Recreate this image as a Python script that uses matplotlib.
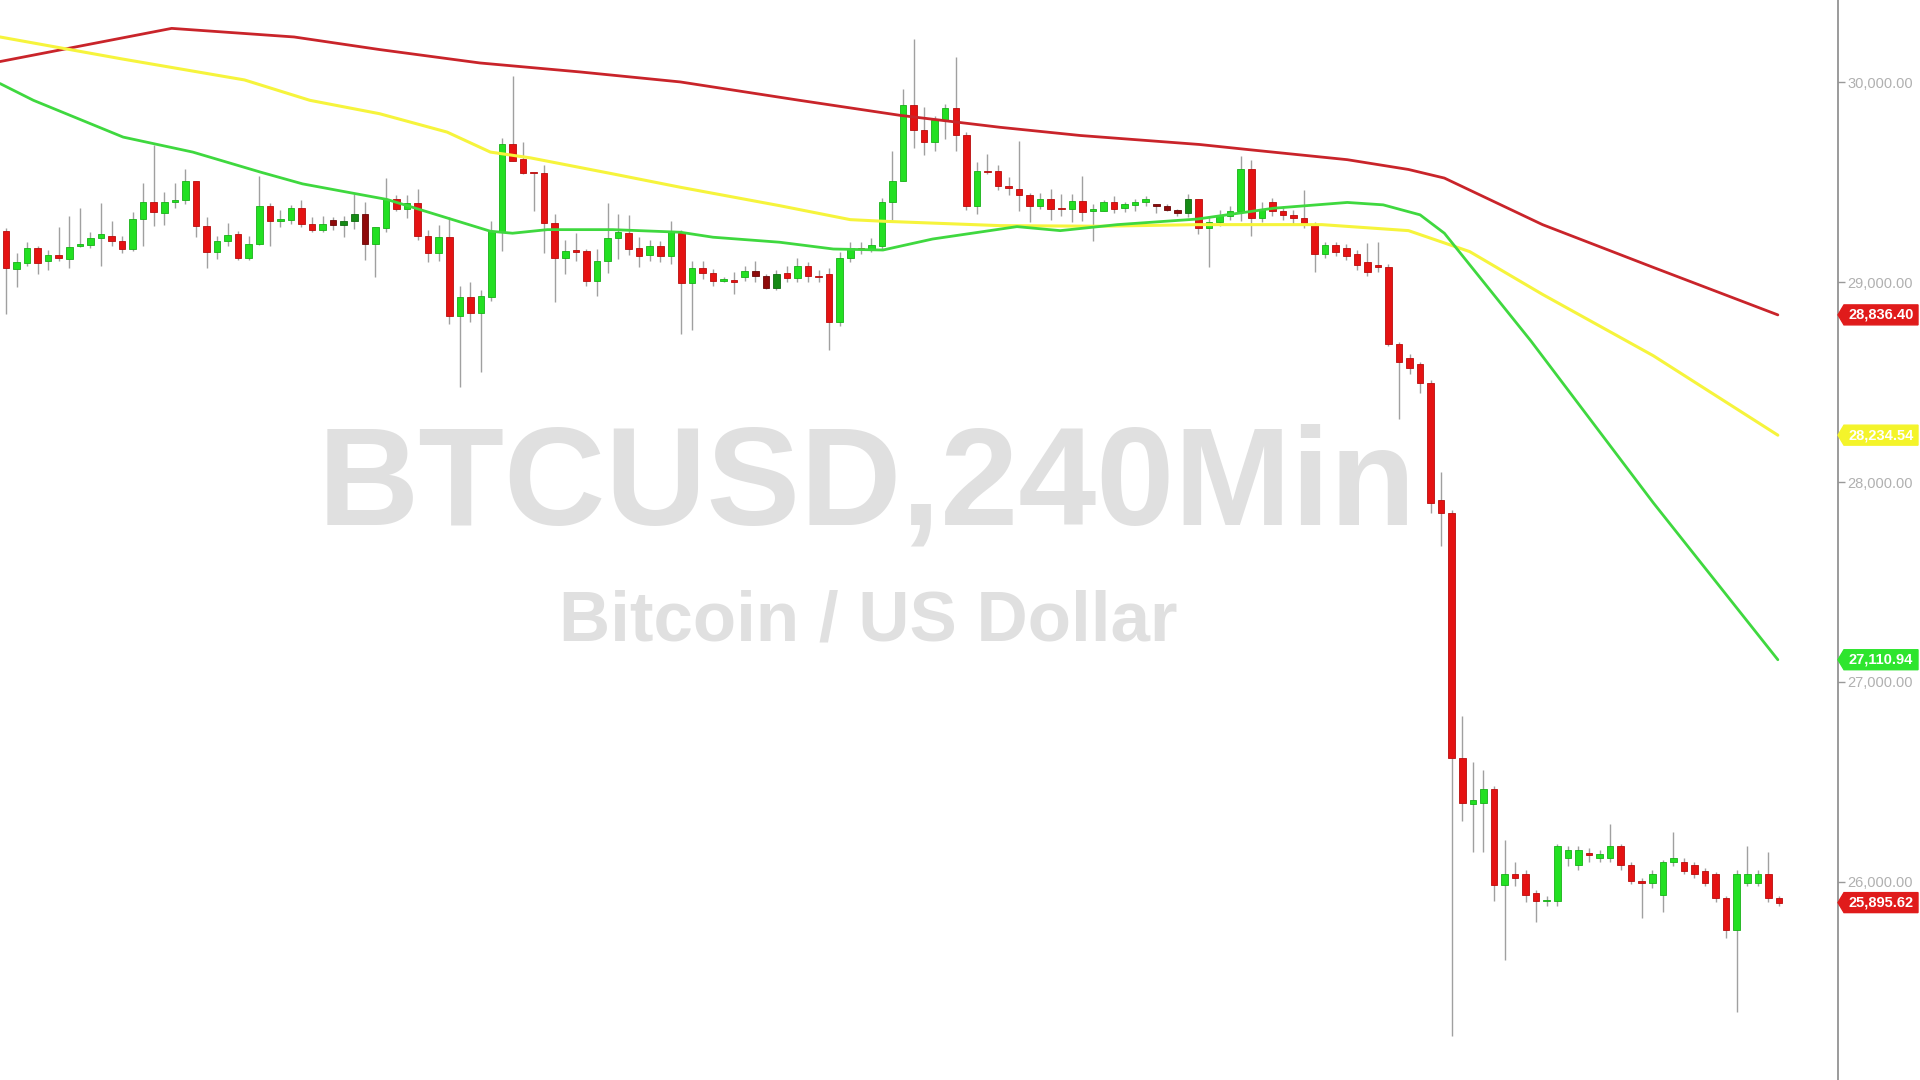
"""
BTCUSD 240Min candlestick chart with three moving averages
"""

import matplotlib
matplotlib.use("Agg")
import matplotlib.pyplot as plt
from matplotlib.patches import Polygon
import matplotlib.transforms as mtransforms
import numpy as np

# ---- candle data (4h bars) ----
opens = [
    29258, 29066, 29095, 29173, 29105, 29138, 29115, 29180, 29188, 29222,
    29233, 29208, 29165, 29315, 29400, 29345, 29400, 29409, 29504, 29280,
    29150, 29207, 29242, 29120, 29190, 29382, 29305, 29312, 29369, 29292,
    29262, 29312, 29287, 29308, 29339, 29190, 29271, 29417, 29367, 29397,
    29233, 29146, 29225, 28830, 28925, 28845, 28927, 29250, 29692, 29614,
    29547, 29547, 29295, 29120, 29158, 29158, 29007, 29108, 29221, 29248,
    29169, 29136, 29180, 29130, 29245, 28994, 29071, 29046, 29008, 29011,
    29024, 29057, 29032, 28970, 29045, 29020, 29080, 29030, 29040, 28800,
    29120, 29170, 29165, 29180, 29400, 29505, 29885, 29763, 29701, 29810,
    29873, 29739, 29383, 29556, 29554, 29479, 29467, 29434, 29380, 29417,
    29367, 29367, 29405, 29356, 29355, 29400, 29370, 29387, 29400, 29392,
    29382, 29363, 29345, 29415, 29271, 29300, 29330, 29356, 29564, 29319,
    29400, 29356, 29337, 29319, 29288, 29141, 29184, 29170, 29141, 29100,
    29086, 29074, 28693, 28620, 28589, 28497, 27908, 27847, 26621, 26389,
    26393, 26466, 25982, 26037, 26037, 25945, 25902, 25902, 26117, 26086,
    26140, 26117, 26117, 26178, 26086, 26006, 25994, 25933, 26098, 26098,
    26086, 26055, 26037, 25920, 25761, 25994, 25994, 26037, 25920,
]
highs = [
    29270, 29146, 29203, 29183, 29161, 29275, 29333, 29370, 29250, 29397,
    29308, 29233, 29350, 29496, 29684, 29450, 29496, 29567, 29504, 29325,
    29233, 29297, 29255, 29230, 29529, 29395, 29362, 29387, 29409, 29325,
    29333, 29325, 29333, 29442, 29400, 29278, 29521, 29438, 29438, 29464,
    29261, 29288, 29325, 28980, 29002, 28960, 29308, 29723, 30030, 29701,
    29547, 29584, 29342, 29211, 29246, 29166, 29166, 29395, 29342, 29337,
    29228, 29211, 29208, 29308, 29261, 29108, 29108, 29066, 29027, 29049,
    29082, 29108, 29041, 29060, 29080, 29120, 29100, 29060, 29070, 29150,
    29200, 29200, 29220, 29420, 29654, 29965, 30219, 29876, 29830, 29893,
    30127, 29751, 29601, 29639, 29584, 29526, 29706, 29445, 29445, 29467,
    29442, 29442, 29529, 29392, 29413, 29433, 29400, 29417, 29433, 29392,
    29392, 29367, 29442, 29415, 29330, 29360, 29380, 29632, 29613, 29400,
    29420, 29380, 29360, 29460, 29300, 29200, 29200, 29190, 29160, 29196,
    29200, 29090, 28700, 28640, 28600, 28510, 28049, 27860, 26827, 26601,
    26560, 26480, 26209, 26100, 26060, 25960, 25930, 26190, 26180, 26180,
    26170, 26160, 26290, 26190, 26100, 26020, 26060, 26110, 26250, 26120,
    26100, 26070, 26050, 25930, 26060, 26178, 26060, 26150, 25930,
]
lows = [
    28842, 28974, 29080, 29041, 29061, 29108, 29069, 29175, 29171, 29083,
    29180, 29146, 29155, 29183, 29280, 29288, 29372, 29392, 29225, 29069,
    29116, 29183, 29111, 29111, 29186, 29183, 29275, 29292, 29275, 29250,
    29250, 29262, 29225, 29267, 29111, 29024, 29250, 29355, 29322, 29213,
    29099, 29108, 28790, 28478, 28800, 28552, 28907, 29155, 29606, 29542,
    29355, 29146, 28900, 29041, 29108, 28982, 28932, 29044, 29116, 29138,
    29074, 29104, 29099, 29091, 28742, 28760, 29016, 28982, 28999, 28940,
    29007, 28999, 28965, 28960, 29000, 29000, 29000, 29000, 28663, 28780,
    29100, 29140, 29150, 29160, 29312, 29505, 29672, 29637, 29654, 29718,
    29654, 29362, 29342, 29539, 29459, 29434, 29358, 29300, 29367, 29312,
    29330, 29303, 29308, 29208, 29355, 29345, 29350, 29358, 29383, 29345,
    29358, 29333, 29325, 29241, 29075, 29280, 29310, 29307, 29233, 29300,
    29330, 29310, 29290, 29270, 29049, 29120, 29130, 29110, 29060, 29030,
    29050, 28680, 28313, 28540, 28448, 27847, 27681, 25227, 26304, 26150,
    26150, 25902, 25607, 25980, 25900, 25797, 25880, 25880, 26080, 26060,
    26100, 26100, 26100, 26060, 25990, 25820, 25970, 25850, 26080, 26040,
    26020, 25980, 25900, 25718, 25350, 25980, 25980, 25900, 25880,
]
closes = [
    29069, 29101, 29173, 29096, 29138, 29120, 29178, 29193, 29223, 29243,
    29207, 29165, 29317, 29400, 29349, 29400, 29409, 29504, 29280, 29150,
    29208, 29238, 29120, 29191, 29382, 29308, 29315, 29372, 29292, 29262,
    29292, 29287, 29305, 29339, 29191, 29278, 29414, 29367, 29397, 29233,
    29146, 29225, 28830, 28925, 28845, 28930, 29255, 29692, 29606, 29545,
    29545, 29295, 29121, 29158, 29153, 29007, 29108, 29221, 29253, 29166,
    29133, 29180, 29133, 29250, 28994, 29071, 29044, 29004, 29012, 29001,
    29057, 29032, 28970, 29041, 29020, 29080, 29030, 29025, 28800, 29120,
    29170, 29165, 29185, 29400, 29505, 29885, 29763, 29701, 29810, 29873,
    29738, 29383, 29556, 29550, 29479, 29471, 29434, 29380, 29417, 29367,
    29365, 29405, 29350, 29360, 29400, 29367, 29392, 29403, 29417, 29380,
    29362, 29345, 29415, 29271, 29300, 29330, 29356, 29564, 29319, 29368,
    29356, 29337, 29319, 29288, 29141, 29184, 29153, 29130, 29086, 29049,
    29074, 28693, 28601, 28570, 28497, 27896, 27847, 26620, 26393, 26409,
    26466, 25982, 26037, 26020, 25933, 25902, 25905, 26178, 26160, 26160,
    26135, 26140, 26178, 26086, 26006, 25994, 26037, 26098, 26117, 26055,
    26037, 25994, 25920, 25761, 26037, 26037, 26037, 25920, 25895.62,
]
# bars drawn in the darker shade (1-based bar numbers)
dark_bars = [32, 33, 34, 35, 72, 73, 74, 110, 111, 112, 113]

# ---- moving averages (bar position, price) ----
ma_long_x = [-0.57, 15.7, 27.3, 35.4, 44.9, 54.4, 63.9, 75.2, 84.7, 94.2,
             101.8, 113.1, 117.8, 127.1, 132.9, 136.3, 145.6, 156.1, 167.9]
ma_long_y = [30104, 30270, 30227, 30164, 30097, 30052, 30002, 29910, 29835, 29775,
             29734, 29689, 29663, 29613, 29564, 29521, 29288, 29074, 28836.40]

ma_mid_x = [-0.57, 11.0, 22.6, 28.8, 35.4, 41.8, 45.9, 49.7, 57.5, 63.9, 73.3,
            80.0, 83.1, 94.2, 103.7, 112.9, 124.7, 132.9, 138.7, 145.6, 156.1, 167.9]
ma_mid_y = [30227, 30117, 30012, 29910, 29843, 29751, 29651, 29622, 29542, 29475, 29383,
            29313, 29305, 29283, 29280, 29288, 29288, 29258, 29153, 28939, 28632, 28234.54]

ma_short_x = [-0.57, 2.6, 11.1, 17.7, 24.1, 28.1, 32.9, 36.1, 45.9, 48.0, 51.3,
              57.5, 63.9, 67.0, 73.3, 78.4, 83.1, 87.8, 95.8, 99.9, 105.3, 112.9,
              120.1, 127.1, 130.5, 134.0, 136.3, 144.5, 156.1, 167.9]
ma_short_y = [29994, 29910, 29726, 29651, 29551, 29492, 29445, 29414, 29255, 29245, 29263,
              29263, 29250, 29225, 29200, 29166, 29161, 29216, 29278, 29258, 29288, 29316,
              29370, 29399, 29387, 29337, 29245, 28706, 27896, 27110.94]

y_ticks = [26000, 27000, 28000, 29000, 30000]
last_price = 25895.62

# ---- colours ----
UP = "#22e022"
DOWN = "#e51212"
UP_DARK = "#158a15"
DOWN_DARK = "#8e0a0a"
WICK = "#a0a0a0"
MA_LONG = "#c9242a"
MA_MID = "#f6f43c"
MA_SHORT = "#3fd83f"

fig = plt.figure(figsize=(19.2, 10.8), dpi=100)
fig.patch.set_facecolor("white")
ax = fig.add_axes([0, 0, 1838 / 1920, 1])
ax.set_facecolor("white")

YMIN, YMAX = 25008, 30412
ax.set_ylim(YMIN, YMAX)
ax.set_xlim(-0.569, 173.6)

# watermark
ax.text(0.4715, 0.514, "BTCUSD,240Min", transform=ax.transAxes, ha="center", va="baseline",
        fontsize=101, fontweight="bold", color="#e0e0e0", family="Liberation Sans", zorder=0)
ax.text(0.4725, 0.4065, "Bitcoin / US Dollar", transform=ax.transAxes, ha="center",
        va="baseline", fontsize=51, fontweight="bold", color="#e0e0e0",
        family="Liberation Sans", zorder=0)

# candles
o = np.array(opens, dtype=float)
h = np.array(highs, dtype=float)
l = np.array(lows, dtype=float)
c = np.array(closes, dtype=float)
x = np.arange(len(o))
dark = np.zeros(len(o), dtype=bool)
dark[np.array(dark_bars) - 1] = True

ax.vlines(x, l, h, color=WICK, linewidth=1.0, zorder=2)
body_lo = np.minimum(o, c)
body_h = np.maximum(np.abs(c - o), 8)
cols = []
edges = []
for up, dk in zip(c >= o, dark):
    if up:
        cols.append(UP_DARK if dk else UP)
        edges.append("#0f6a0f" if dk else "#18b018")
    else:
        cols.append(DOWN_DARK if dk else DOWN)
        edges.append("#6a0606" if dk else "#b80c0c")
ax.bar(x, body_h, bottom=body_lo, width=0.62, color=cols, edgecolor=edges,
       linewidth=0.6, zorder=3)

# moving averages
for mx, my, col, lw in [(ma_long_x, ma_long_y, MA_LONG, 2.0),
                        (ma_mid_x, ma_mid_y, MA_MID, 2.2),
                        (ma_short_x, ma_short_y, MA_SHORT, 2.0)]:
    ax.plot(mx, my, color=col, linewidth=lw, zorder=4,
            solid_capstyle="round", solid_joinstyle="round")

# axis styling
for side in ["top", "left", "bottom"]:
    ax.spines[side].set_visible(False)
ax.spines["right"].set_color("#8a8a8a")
ax.spines["right"].set_linewidth(1.2)
ax.set_xticks([])
ax.yaxis.tick_right()
ax.set_yticks(y_ticks)
ax.set_yticklabels([f"{v:,.2f}" for v in y_ticks])
ax.tick_params(axis="y", length=5, width=1, color="#9a9a9a", labelcolor="#b0b0b0",
               labelsize=10.5, pad=2)
for lab in ax.get_yticklabels():
    lab.set_family("Liberation Sans")

# price tags on the axis
trans = mtransforms.blended_transform_factory(ax.transAxes, ax.transData)
tag_h = 50  # half height in price units
x0 = 1.0
x1 = 1.0 + 6 / 1838
x2 = 1.0 + 80 / 1838


def price_tag(value, face, text_color):
    poly = Polygon([(x0, value), (x1, value + tag_h), (x2, value + tag_h),
                    (x2, value - tag_h), (x1, value - tag_h)], closed=True,
                   transform=trans, facecolor=face, edgecolor=face, clip_on=False, zorder=6)
    ax.add_patch(poly)
    ax.text((x1 + x2) / 2, value, f"{value:,.2f}", transform=trans, ha="center", va="center",
            fontsize=10.5, fontweight="bold", color=text_color, family="Liberation Sans",
            clip_on=False, zorder=7)


price_tag(ma_long_y[-1], "#e01b1b", "white")
price_tag(ma_mid_y[-1], "#f4f42a", "white")
price_tag(ma_short_y[-1], "#2ee52e", "white")
price_tag(last_price, "#e01b1b", "white")

fig.savefig("out.png", dpi=100, facecolor="white")
